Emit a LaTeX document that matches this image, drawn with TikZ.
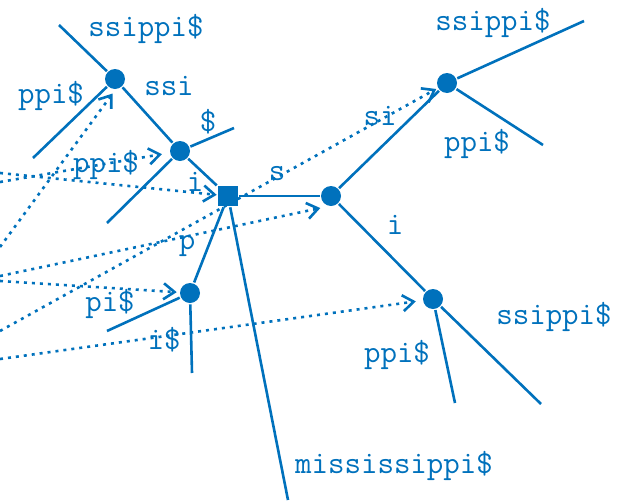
\documentclass[tikz,border=0pt]{standalone}
\usepackage{tikz}
\usepackage{color}
\usetikzlibrary{arrows.meta}
\definecolor{treeblue}{RGB}{0,113,188}

\begin{document}
\begin{tikzpicture}[x=1pt,y=-1pt,line width=2.6pt,color=treeblue,
		inner node/.style={circle,fill=treeblue,inner sep=0pt,minimum size=20pt},
		root node/.style={rectangle,fill=treeblue,inner sep=0pt,minimum size=20pt},
		edge text/.style={font=\ttfamily\fontsize{32}{32}\selectfont,inner sep=0pt},
		link/.style={-{Straight Barb[length=11pt,width=16pt]},dash pattern=on 3pt off 5pt}]

		\useasboundingbox (0,0) rectangle (624,501);

		% branching nodes
		\node[root node] (root) at (228,196) {};
		\node[inner node] (i) at (180,151) {};
		\node[inner node] (issi) at (115,79) {};
		\node[inner node] (s) at (331,196) {};
		\node[inner node] (ssi) at (447,83) {};
		\node[inner node] (si) at (433,299) {};
		\node[inner node] (p) at (190,293) {};

		% leaf ends
		\coordinate (issi1) at (59,25);
		\coordinate (issi2) at (33,158);
		\coordinate (i1) at (234,128);
		\coordinate (i2) at (107,223);
		\coordinate (whole) at (288,500);
		\coordinate (ssi1) at (584,21);
		\coordinate (ssi2) at (543,145);
		\coordinate (si1) at (541,404);
		\coordinate (si2) at (455,403);
		\coordinate (p1) at (107,331);
		\coordinate (p2) at (192,373);

		% links coming in from the left
		\coordinate (in1) at (0,247);
		\coordinate (in2) at (0,182);
		\coordinate (in3) at (0,173);
		\coordinate (in4) at (0,276);
		\coordinate (in5) at (0,281);
		\coordinate (in6) at (0,331);
		\coordinate (in7) at (0,359);

		\path[link]
		(in1) edge[shorten >=4pt] (issi.south)
		(in2) edge[shorten >=7pt] (i)
		(in3) edge (root)
		(in4) edge[shorten >=7pt] (s.250)
		(in5) edge[shorten >=2pt] (p)
		(in6) edge[shorten >=1pt] (ssi)
		(in7) edge[shorten >=6pt] (si);

		\path
		(root) edge (i)
		(i) edge (issi)
		(issi) edge (issi1)
		(issi) edge (issi2)
		(i) edge (i1)
		(i) edge (i2)
		(root) edge (s)
		(s) edge (ssi)
		(ssi) edge (ssi1)
		(ssi) edge (ssi2)
		(s) edge (si)
		(si) edge (si1)
		(si) edge (si2)
		(root) edge (p)
		(p) edge (p1)
		(p) edge (p2)
		(root) edge (whole);

		% edge labels
		\node[edge text] (t1) at (146,29) {ssippi\$};
		\node[edge text] (t2) at (51,96) {ppi\$};
		\node[edge text] (t3) at (169,86) {ssi};
		\node[edge text] (t4) at (208,122) {\$};
		\node[edge text] (t5) at (106,165) {ppi\$};
		\node[edge text] (t6) at (195,182) {i};
		\node[edge text] (t7) at (187,246) {p};
		\node[edge text] (t8) at (110,304) {pi\$};
		\node[edge text] (t9) at (164,340) {i\$};
		\node[edge text] (t10) at (493,23) {ssippi\$};
		\node[edge text] (t11) at (380,116) {si};
		\node[edge text] (t12) at (477,144) {ppi\$};
		\node[edge text] (t13) at (277,174) {s};
		\node[edge text] (t14) at (395,225) {i};
		\node[edge text] (t15) at (554,317) {ssippi\$};
		\node[edge text] (t16) at (397,355) {ppi\$};
		\node[edge text] (t17) at (394,466) {mississippi\$};
\end{tikzpicture}
\end{document}
